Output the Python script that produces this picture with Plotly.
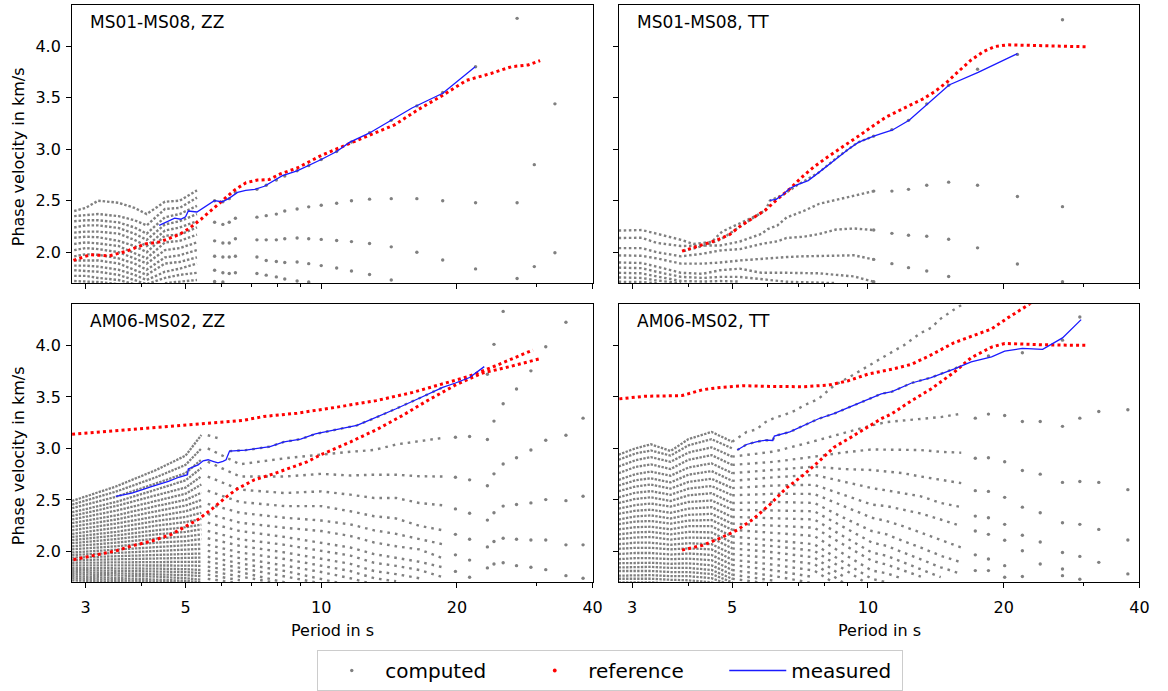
import math
import plotly.graph_objects as go

GRAY = "#808080"
RED = "#ff0000"
BLUE = "#1a1aff"
FONT = "DejaVu Sans"

PERIOD_TICKS = [3, 5, 10, 20, 40]
PERIOD_MINOR = [4, 6, 7, 8, 9, 30]
VEL_TICKS = [2.0, 2.5, 3.0, 3.5, 4.0]

# =============== MS01-MS08, ZZ (top left) ===============
TL_REF_T = [2.82, 3.07, 3.39, 3.70, 4.07, 4.39, 4.83, 5.09, 5.41, 5.72, 6.06, 6.43, 6.81, 7.22, 7.66, 8.11,
            8.84, 10.0, 11.34, 12.83, 14.54, 16.43, 18.62, 21.0, 23.8, 26.4, 28.8, 30.6]
TL_REF_V = [1.92, 1.975, 1.965, 2.01, 2.08, 2.10, 2.17, 2.23, 2.32, 2.41, 2.50, 2.605, 2.675, 2.70, 2.705, 2.76,
            2.817, 2.939, 3.04, 3.14, 3.236, 3.386, 3.524, 3.668, 3.735, 3.80, 3.818, 3.86]
TL_MEAS_T = [4.37, 4.73, 4.88, 5.0, 5.07, 5.30, 5.79, 6.03, 6.23, 6.52, 6.80, 7.12, 7.48, 7.8, 8.2, 8.84, 9.37,
             10.0, 10.82, 11.55, 12.77, 14.1, 15.9, 18.6, 21.96]
TL_MEAS_V = [2.26, 2.33, 2.32, 2.344, 2.40, 2.39, 2.50, 2.49, 2.52, 2.58, 2.60, 2.61, 2.64, 2.69, 2.743, 2.79, 2.84,
             2.90, 2.977, 3.066, 3.155, 3.265, 3.40, 3.543, 3.80]
TL_DENSE_T = [2.83, 3.0, 3.2, 3.55, 3.85, 4.1, 4.5, 4.85, 5.3]
TL_DENSE_V = [
    [2.40, 2.43, 2.50, 2.48, 2.43, 2.37, 2.49, 2.50, 2.60],
    [2.35, 2.36, 2.37, 2.35, 2.31, 2.26, 2.42, 2.43, 2.53],
    [2.30, 2.31, 2.31, 2.29, 2.24, 2.18, 2.34, 2.37, 2.45],
    [2.24, 2.26, 2.26, 2.235, 2.18, 2.12, 2.27, 2.30, 2.37],
    [2.19, 2.20, 2.20, 2.18, 2.12, 2.06, 2.21, 2.24, 2.30],
    [2.14, 2.15, 2.145, 2.11, 2.06, 2.00, 2.16, 2.17, 2.24],
    [2.08, 2.095, 2.085, 2.06, 1.99, 1.94, 2.095, 2.11, 2.17],
    [2.02, 2.04, 2.03, 2.00, 1.94, 1.89, 2.02, 2.04, 2.095],
    [1.96, 1.98, 1.975, 1.94, 1.89, 1.83, 1.95, 1.97, 2.02],
    [1.92, 1.92, 1.92, 1.89, 1.83, 1.78, 1.89, 1.905, 1.95],
    [1.87, 1.87, 1.86, 1.83, 1.78, 1.73, 1.81, 1.84, 1.89],
    [1.825, 1.82, 1.81, 1.78, 1.73, 1.69, 1.75, 1.78, 1.80],
    [1.77, 1.77, 1.75, 1.73, 1.69, None, 1.70, 1.715, 1.73],
    [1.72, 1.715, 1.71, 1.69],
]
TL_SPARSE_T = [5.8, 6.05, 6.25, 6.45, 7.2, 7.55, 7.95, 8.3, 8.84, 9.38, 10.0, 10.82, 11.67, 12.8, 14.3, 16.3,
               18.6, 22.0, 27.2, 29.7, 33.0]
TL_SPARSE_V = [
    [2.50, 2.49, 2.52, 2.58, 2.61, 2.65, 2.70, 2.74, 2.79, 2.84, 2.90, 2.977, 3.07, 3.16, 3.28, 3.42, 3.55, 3.80, 4.27],
    [2.29, 2.27, 2.29, 2.33, 2.34, 2.355, 2.37, 2.40, 2.42, 2.44, 2.455, 2.475, 2.50, 2.515, 2.52, 2.52, 2.50, 2.48, 2.48, 2.85, 3.44],
    [2.11, 2.09, 2.09, 2.13, 2.12, 2.12, 2.12, 2.13, 2.138, 2.13, 2.124, 2.113, 2.103, 2.084, 2.052, 2.0, 1.924, 1.838, 1.745, 1.86, 1.995],
    [1.96, 1.953, 1.953, 1.96, 1.953, 1.92, 1.91, 1.90, 1.905, 1.889, 1.87, 1.847, 1.818, 1.783, 1.73],
    [1.825, 1.80, 1.793, 1.80, 1.793, 1.777, 1.76, 1.74, 1.72, 1.71],
    [1.715, 1.71],
]

# =============== MS01-MS08, TT (top right) ===============
TR_REF_T = [3.87, 4.09, 4.36, 4.62, 4.93, 5.2, 5.55, 5.93, 6.28, 6.71, 7.13, 7.58, 8.05, 8.58, 9.1, 9.7, 10.34,
            10.98, 11.70, 12.43, 13.22, 14.07, 14.98, 15.92, 16.94, 18.0, 19.15, 20.39, 22.34, 24.5, 26.84, 30.4]
TR_REF_V = [2.01, 2.042, 2.075, 2.116, 2.17, 2.25, 2.33, 2.41, 2.51, 2.615, 2.727, 2.826, 2.91, 2.99, 3.07, 3.15,
            3.236, 3.313, 3.373, 3.428, 3.486, 3.559, 3.652, 3.76, 3.866, 3.946, 3.997, 4.013, 4.007, 4.0, 4.0, 3.994]
TR_MEAS_T = [6.06, 6.26, 6.48, 6.7, 6.98, 7.37, 7.76, 8.17, 8.6, 9.05, 9.52, 10.02, 10.3, 10.7, 11.31, 12.34,
             13.54, 15.13, 17.55, 21.45]
TR_MEAS_V = [2.503, 2.513, 2.56, 2.618, 2.656, 2.695, 2.77, 2.848, 2.929, 3.0, 3.066, 3.11, 3.127, 3.15, 3.184,
             3.28, 3.44, 3.623, 3.745, 3.927]
TR_ROWS = [
    [(2.8, 2.21), (3.15, 2.215), (3.4, 2.18), (3.85, 2.12), (4.1, 2.08), (4.5, 2.10), (4.75, 2.20), (5.2, 2.28),
     (5.75, 2.37), (5.95, 2.42)],
    [(2.8, 2.138), (3.15, 2.14), (3.4, 2.09), (3.85, 2.06), (4.3, 2.065), (4.7, 2.065), (5.2, 2.104), (5.5, 2.138),
     (5.8, 2.177), (6.0, 2.225), (6.3, 2.26), (6.6, 2.337), (7.2, 2.40), (7.8, 2.47), (8.5, 2.51), (9.3, 2.545),
     (10.3, 2.593)],
    [(2.8, 2.04), (3.15, 2.04), (3.4, 2.0), (3.85, 1.96), (4.3, 1.985), (4.7, 2.017), (5.2, 2.03), (5.8, 2.08),
     (6.3, 2.106), (6.6, 2.138), (7.2, 2.15), (7.8, 2.177), (8.5, 2.22), (9.3, 2.23), (10.3, 2.215)],
    [(2.8, 1.969), (3.15, 1.965), (3.4, 1.94), (3.85, 1.889), (4.3, 1.889), (4.7, 1.90), (5.2, 1.92), (5.8, 1.937),
     (6.6, 1.953), (7.2, 1.96), (8.5, 1.97), (9.3, 1.97), (10.3, 1.93)],
    [(2.8, 1.90), (3.15, 1.895), (3.4, 1.86), (3.85, 1.80), (4.3, 1.79), (4.7, 1.825), (5.2, 1.84), (5.8, 1.80),
     (6.6, 1.80), (7.8, 1.795), (8.5, 1.78), (9.3, 1.765), (10.3, 1.713)],
    [(2.8, 1.85), (3.15, 1.845), (3.4, 1.81), (3.85, 1.76), (4.3, 1.75), (4.7, 1.76), (5.2, 1.76), (5.8, 1.74),
     (6.6, 1.713), (8.5, 1.70)],
    [(2.8, 1.80), (3.15, 1.795), (3.4, 1.765), (3.85, 1.72), (4.3, 1.715), (4.7, 1.72), (5.2, 1.715)],
    [(2.8, 1.755), (3.15, 1.75), (3.4, 1.725), (3.85, 1.70)],
    [(2.8, 1.713), (3.15, 1.71), (3.4, 1.70)],
    [(3.9, 2.01), (4.3, 2.06), (4.7, 2.12), (5.2, 2.25), (5.55, 2.33), (5.93, 2.41), (6.06, 2.50), (6.5, 2.56),
     (7.0, 2.656), (7.76, 2.77), (8.6, 2.93), (9.5, 3.066), (10.3, 3.127)],
]
TR_SPARSE_T = [10.3, 11.3, 12.3, 13.5, 15.1, 17.5, 21.45, 27.0]
TR_SPARSE_V = [
    [3.127, 3.19, 3.28, 3.44, 3.62, 3.776, 3.92, 4.256],
    [2.593, 2.593, 2.61, 2.65, 2.68, 2.65, 2.54, 2.442],
    [2.215, 2.183, 2.164, 2.155, 2.126, 2.042, 1.886, None],
    [1.93, 1.889, 1.85, 1.818, 1.764, None, None, 1.713],
    [1.713],
]

# =============== AM06-MS02, ZZ (bottom left) ===============
BL_REF1_T = [2.8, 3.8, 5.33, 6.7, 7.45, 8.84, 10.82, 13.24, 15.97, 18.6, 21.2, 24.3, 27.8, 29.5]
BL_REF1_V = [3.137, 3.186, 3.24, 3.272, 3.31, 3.342, 3.40, 3.464, 3.544, 3.625, 3.698, 3.80, 3.904, 3.955]
BL_REF2_T = [2.82, 3.21, 3.5, 3.8, 4.2, 4.65, 4.97, 5.33, 5.75, 6.18, 6.53, 7.1, 7.8, 8.4, 9.3, 10.0, 10.8,
             11.62, 12.5, 13.24, 15.15, 17.2, 19.85, 22.7, 26.2, 30.6]
BL_REF2_V = [1.92, 1.974, 2.005, 2.054, 2.10, 2.166, 2.236, 2.31, 2.42, 2.535, 2.61, 2.695, 2.75, 2.80, 2.87, 2.94,
             3.0, 3.064, 3.13, 3.18, 3.32, 3.464, 3.615, 3.73, 3.794, 3.871]
BL_MEAS_T = [3.5, 3.8, 4.2, 4.58, 4.83, 5.05, 5.07, 5.33, 5.47, 5.61, 5.75, 5.9, 6.05, 6.15, 6.2, 6.26, 6.8, 7.22,
             7.7, 8.27, 9.0, 9.7, 10.82, 12.0, 12.6, 13.24, 14.66, 16.5, 18.6, 19.85, 21.34, 23.0]
BL_MEAS_V = [2.535, 2.567, 2.63, 2.68, 2.72, 2.745, 2.80, 2.84, 2.88, 2.89, 2.875, 2.86, 2.875, 2.89, 2.93, 2.974,
             2.983, 3.0, 3.018, 3.064, 3.09, 3.14, 3.18, 3.224, 3.262, 3.30, 3.385, 3.487, 3.592, 3.635, 3.688, 3.794]
BL_DENSE_T = [2.8, 3.5, 4.3, 5.0, 5.42]
BL_DENSE_V = [
    [2.49, 2.63, 2.79, 2.93, 3.13], [2.455, 2.58, 2.72, 2.84, 3.00], [2.42, 2.53, 2.66, 2.76, 2.89],
    [2.38, 2.48, 2.60, 2.69, 2.81], [2.345, 2.44, 2.545, 2.62, 2.73], [2.31, 2.395, 2.49, 2.56, 2.65],
    [2.275, 2.35, 2.44, 2.50, 2.57], [2.24, 2.31, 2.39, 2.445, 2.50], [2.205, 2.27, 2.34, 2.39, 2.44],
    [2.17, 2.23, 2.295, 2.335, 2.375], [2.14, 2.19, 2.25, 2.285, 2.315], [2.11, 2.155, 2.205, 2.235, 2.26],
    [2.08, 2.12, 2.165, 2.19, 2.215], [2.05, 2.085, 2.125, 2.145, 2.165], [2.02, 2.05, 2.085, 2.10, 2.12],
    [1.99, 2.015, 2.045, 2.055, 2.07], [1.965, 1.985, 2.005, 2.015, 2.025], [1.94, 1.955, 1.97, 1.975, 1.98],
    [1.915, 1.925, 1.935, 1.94, 1.94], [1.89, 1.895, 1.90, 1.90, 1.90], [1.865, 1.867, 1.865, 1.863, 1.86],
    [1.84, 1.84, 1.833, 1.828, 1.82], [1.82, 1.815, 1.805, 1.80, 1.79], [1.80, 1.79, 1.78, 1.77, 1.76],
    [1.78, 1.768, 1.755, 1.74, 1.725], [1.76, 1.745, 1.73, 1.715, 1.70], [1.74, 1.725, 1.71, 1.70, 1.69],
    [1.72, 1.705, 1.69, 1.68, 1.67],
]
BL_MID_T = [5.6, 6.6, 8.3, 10.0, 11.6, 13.1, 14.66, 16.5, 18.6]
BL_MID_V = [
    [3.00, 2.846, 2.904, 2.942, 2.967, 2.985, 3.038, 3.07, 3.102],
    [2.871, 2.727, 2.727, 2.753, 2.737, 2.745, 2.745, 2.73, 2.727],
    [2.727, 2.60, 2.567, 2.583, 2.551, 2.519, 2.519, 2.47, 2.448],
    [2.589, 2.48, 2.44, 2.44, 2.39, 2.342, 2.32, 2.25, 2.205],
    [2.462, 2.375, 2.327, 2.30, 2.263, 2.205, 2.17, 2.12, 2.07],
    [2.365, 2.279, 2.23, 2.198, 2.15, 2.087, 2.05, 2.02, 1.935],
    [2.279, 2.198, 2.14, 2.087, 2.038, 1.974, 1.94, 1.90, 1.846],
    [2.198, 2.118, 2.064, 2.01, 1.96, 1.89, 1.86, 1.82, 1.75],
    [2.128, 2.054, 1.99, 1.93, 1.88, 1.81, 1.78, 1.74],
    [2.064, 1.99, 1.926, 1.86, 1.81, 1.74, 1.71],
    [2.006, 1.935, 1.862, 1.80, 1.74, 1.68],
    [1.948, 1.884, 1.81, 1.73, 1.67],
    [1.90, 1.84, 1.756, 1.69],
    [1.852, 1.80, 1.70],
    [1.813, 1.756, 1.68],
    [1.775, 1.72],
    [1.734, 1.69],
]
BL_UPPER_ROWS = [
    [(5.6, 3.128), (5.9, 3.10)],
    [(6.26, 2.974), (6.8, 2.983), (7.22, 3.0), (7.7, 3.018), (8.27, 3.064), (9.0, 3.09), (9.7, 3.14), (10.82, 3.18),
     (12.0, 3.224), (13.24, 3.30), (14.66, 3.385), (16.5, 3.487), (18.6, 3.592)],
]
BL_FAR_T = [19.85, 21.34, 23.37, 24.17, 25.33, 27.12, 29.19, 31.49, 34.91, 38.1]
BL_FAR_V = [
    [3.109, 2.72, 2.413, 2.166, 1.967, 1.806],
    [3.115, 2.695, 2.371, 2.118, 1.916, 1.75],
    [3.72, 3.086, 2.638, 2.304, 2.044, 1.84],
    [4.01, 3.265, 2.753, 2.375, 2.096, 1.878],
    [4.33, 3.433, 2.849, 2.44, 2.128, 1.89],
    [3.577, 2.91, 2.455, 2.118, 1.862],
    [3.753, 2.984, 2.471, 2.111, 1.846],
    [3.987, 3.08, 2.503, 2.111, 1.823],
    [4.224, 3.128, 2.493, 2.064, 1.765],
    [3.294, 2.535, 2.064, 1.74],
]

# =============== AM06-MS02, TT (bottom right) ===============
BR_REF1_T = [2.81, 3.19, 3.87, 4.3, 4.7, 5.27, 6.06, 7.2, 8.18, 9.05, 10.0, 11.3, 12.5, 13.8, 15.5, 16.94, 18.8,
             20.5, 22.7, 24.0]
BR_REF1_V = [3.481, 3.506, 3.513, 3.57, 3.592, 3.609, 3.602, 3.599, 3.615, 3.657, 3.721, 3.769, 3.817, 3.907, 4.025,
             4.09, 4.16, 4.272, 4.394, 4.48]
BR_REF2_T = [3.87, 4.3, 4.7, 5.13, 5.55, 6.06, 6.59, 7.2, 7.77, 8.4, 9.2, 10.0, 10.7, 11.3, 12.5, 13.8, 15.5,
             16.94, 18.8, 20.1, 22.0, 24.4, 27.1, 30.8]
BR_REF2_V = [2.013, 2.06, 2.128, 2.208, 2.31, 2.455, 2.615, 2.743, 2.871, 3.01, 3.112, 3.208, 3.288, 3.337, 3.464,
             3.577, 3.737, 3.881, 3.984, 4.019, 4.01, 4.006, 4.003, 4.0]
BR_MEAS_T = [5.13, 5.38, 5.65, 5.93, 6.15, 6.2, 6.71, 7.2, 7.77, 8.4, 9.2, 10.0, 10.7, 11.3, 12.5, 13.8, 15.5,
             16.94, 18.8, 20.1, 22.0, 24.4, 27.0, 29.7]
BR_MEAS_V = [2.984, 3.038, 3.064, 3.08, 3.077, 3.12, 3.16, 3.224, 3.288, 3.337, 3.41, 3.481, 3.529, 3.551, 3.635,
             3.688, 3.769, 3.84, 3.888, 3.945, 3.971, 3.962, 4.073, 4.25]
BR_DENSE_T = [2.8, 3.05, 3.3, 3.65, 4.0, 4.5, 5.0]
BR_DENSE_V = [
    [2.94, 3.00, 3.04, 2.975, 3.09, 3.16, 3.065], [2.89, 2.95, 2.98, 2.93, 3.03, 3.09, 3.00],
    [2.825, 2.885, 2.915, 2.87, 2.96, 3.01, 2.92], [2.76, 2.82, 2.845, 2.80, 2.89, 2.935, 2.84],
    [2.695, 2.75, 2.775, 2.735, 2.815, 2.855, 2.76], [2.64, 2.69, 2.71, 2.67, 2.745, 2.78, 2.685],
    [2.585, 2.63, 2.65, 2.61, 2.675, 2.705, 2.615], [2.525, 2.57, 2.585, 2.55, 2.61, 2.635, 2.545],
    [2.47, 2.51, 2.525, 2.49, 2.545, 2.565, 2.47], [2.415, 2.45, 2.465, 2.435, 2.48, 2.495, 2.405],
    [2.365, 2.395, 2.405, 2.375, 2.415, 2.43, 2.335], [2.31, 2.34, 2.35, 2.32, 2.355, 2.365, 2.27],
    [2.265, 2.29, 2.295, 2.27, 2.30, 2.305, 2.21], [2.215, 2.235, 2.24, 2.215, 2.245, 2.245, 2.145],
    [2.165, 2.185, 2.19, 2.165, 2.19, 2.185, 2.085], [2.12, 2.135, 2.14, 2.115, 2.135, 2.13, 2.03],
    [2.07, 2.085, 2.085, 2.065, 2.08, 2.07, 1.975], [2.025, 2.035, 2.035, 2.02, 2.03, 2.02, 1.92],
    [1.975, 1.985, 1.985, 1.97, 1.98, 1.965, 1.87], [1.925, 1.935, 1.935, 1.925, 1.93, 1.915, 1.82],
    [1.885, 1.89, 1.89, 1.88, 1.885, 1.865, 1.775], [1.845, 1.85, 1.85, 1.84, 1.84, 1.82, 1.735],
    [1.81, 1.81, 1.81, 1.80, 1.80, 1.78, 1.70], [1.765, 1.77, 1.77, 1.76, 1.76, 1.74, 1.67],
    [1.735, 1.735, 1.735, 1.725, 1.72, 1.70, 1.64], [1.70, 1.70, 1.70, 1.69, 1.685, 1.665, 1.61],
]
BR_MID_T = [5.0, 6.2, 7.6, 8.8, 10.2, 11.0, 11.95, 13.1, 14.5, 16.1]
BR_MID_V = [
    [2.92, 2.97, 3.07, 3.15, 3.224, 3.256, 3.27, 3.288, 3.304, 3.337],
    [2.84, 2.87, 2.92, 2.96, 2.99, 2.99, 2.99, 2.984, 2.967, 2.958],
    [2.76, 2.79, 2.823, 2.80, 2.791, 2.775, 2.76, 2.727, 2.695, 2.663],
    [2.685, 2.72, 2.743, 2.68, 2.615, 2.592, 2.567, 2.535, 2.471, 2.43],
    [2.615, 2.64, 2.647, 2.55, 2.455, 2.44, 2.407, 2.368, 2.31, 2.246],
    [2.545, 2.56, 2.558, 2.44, 2.327, 2.294, 2.246, 2.182, 2.109, 2.038],
    [2.47, 2.48, 2.471, 2.33, 2.198, 2.166, 2.102, 2.038, 1.958, 1.894],
    [2.405, 2.40, 2.39, 2.24, 2.087, 2.054, 1.99, 1.926, 1.846, 1.782],
    [2.335, 2.325, 2.31, 2.15, 1.99, 1.958, 1.894, 1.83, 1.75],
    [2.27, 2.25, 2.23, 2.07, 1.91, 1.872, 1.814, 1.756],
    [2.21, 2.18, 2.15, 1.98, 1.814, 1.788, 1.734],
    [2.145, 2.11, 2.07, 1.90, 1.734, 1.70],
    [2.085, 2.05, 2.006, 1.83, 1.66],
    [2.03, 1.99, 1.942, 1.76],
    [1.975, 1.93, 1.878, 1.70],
    [1.92, 1.87, 1.814, 1.64],
    [1.87, 1.815, 1.75],
    [1.82, 1.76, 1.69],
    [1.775, 1.715],
    [1.735, 1.68],
]
BR_UPPER_ROWS = [
    [(5.0, 3.065), (5.13, 3.096), (5.38, 3.16), (5.65, 3.183), (5.93, 3.256), (6.25, 3.304), (6.48, 3.32),
     (6.9, 3.368), (7.2, 3.416), (7.77, 3.481), (8.4, 3.609), (9.2, 3.705), (10.0, 3.80), (10.7, 3.881),
     (11.5, 3.955), (12.0, 4.0), (13.1, 4.121), (13.8, 4.17), (14.5, 4.26), (15.5, 4.346), (16.5, 4.42)],
    [(5.13, 2.984), (5.38, 3.038), (5.65, 3.064), (5.93, 3.08), (6.15, 3.077), (6.2, 3.12), (6.71, 3.16),
     (7.2, 3.224), (7.77, 3.288), (8.4, 3.337), (9.2, 3.41), (10.0, 3.481), (10.7, 3.529), (11.3, 3.551),
     (12.5, 3.635), (13.8, 3.688), (15.5, 3.769), (16.1, 3.80)],
]
BR_FAR_T = [17.3, 18.5, 20.1, 22.0, 24.1, 27.0, 29.5, 32.5, 37.7]
BR_FAR_V = [
    [3.294, 2.904, 2.59, 2.343, 2.198, 1.967, 1.814],
    [3.897, 3.333, 2.91, 2.583, 2.327, 2.166, 1.926, 1.814],
    [3.32, 2.871, 2.525, 2.263, 2.109, 1.862, 1.75],
    [3.929, 3.262, 2.785, 2.43, 2.157, 2.006, 1.756],
    [3.262, 2.75, 2.375, 2.092, 1.878],
    [4.051, 3.214, 2.67, 2.279, 1.99, 1.83, 1.765],
    [4.275, 3.294, 2.679, 2.263, 1.952, 1.73],
    [3.359, 2.67, 2.214, 1.894],
    [3.375, 2.60, 2.111, 1.782],
]

PANEL_TITLES = ["MS01-MS08, ZZ", "MS01-MS08, TT", "AM06-MS02, ZZ", "AM06-MS02, TT"]


# ---------------- helpers ----------------
def grid_rows(grid, rows):
    xs, ys = [], []
    for row in rows:
        for t, v in zip(grid, row):
            xs.append(t if v is not None else None)
            ys.append(v)
        xs.append(None)
        ys.append(None)
    return xs, ys


def pair_rows(rows):
    xs, ys = [], []
    for row in rows:
        for t, v in row:
            xs.append(t)
            ys.append(v)
        xs.append(None)
        ys.append(None)
    return xs, ys


def columns(grid, cols):
    xs, ys = [], []
    for t, col in zip(grid, cols):
        for v in col:
            if v is not None:
                xs.append(t)
                ys.append(v)
    return xs, ys


fig = go.Figure()


def ax(n):
    return ("x" if n == 1 else f"x{n}"), ("y" if n == 1 else f"y{n}")


def add_dotted(n, xy, dash, width=2.4):
    xa, ya = ax(n)
    fig.add_trace(go.Scatter(x=xy[0], y=xy[1], xaxis=xa, yaxis=ya, mode="lines",
                             line=dict(color=GRAY, width=width, dash=dash),
                             showlegend=False, hoverinfo="skip"))


def add_dots(n, xy, size=3.4):
    xa, ya = ax(n)
    fig.add_trace(go.Scatter(x=xy[0], y=xy[1], xaxis=xa, yaxis=ya, mode="markers",
                             marker=dict(color=GRAY, size=size, line=dict(width=0)),
                             showlegend=False, hoverinfo="skip"))


def add_ref(n, t, v):
    xa, ya = ax(n)
    fig.add_trace(go.Scatter(x=t, y=v, xaxis=xa, yaxis=ya, mode="lines",
                             line=dict(color=RED, width=3.0, dash="3px,3.2px"),
                             showlegend=False, hoverinfo="skip"))


def add_meas(n, t, v):
    xa, ya = ax(n)
    fig.add_trace(go.Scatter(x=t, y=v, xaxis=xa, yaxis=ya, mode="lines",
                             line=dict(color=BLUE, width=1.3),
                             showlegend=False, hoverinfo="skip"))


# computed (gray)
add_dotted(1, grid_rows(TL_DENSE_T, TL_DENSE_V), "2.5px,1.9px")
add_dots(1, grid_rows(TL_SPARSE_T, TL_SPARSE_V))
add_dotted(2, pair_rows(TR_ROWS), "2.5px,2.6px")
add_dots(2, grid_rows(TR_SPARSE_T, TR_SPARSE_V))
add_dotted(3, grid_rows(BL_DENSE_T, BL_DENSE_V), "2.4px,1.1px", 2.3)
add_dotted(3, grid_rows(BL_MID_T, BL_MID_V), "2.6px,5px")
add_dotted(3, pair_rows(BL_UPPER_ROWS), "2.6px,5px")
add_dots(3, columns(BL_FAR_T, BL_FAR_V))
add_dotted(4, grid_rows(BR_DENSE_T, BR_DENSE_V), "2.4px,1.3px", 2.3)
add_dotted(4, grid_rows(BR_MID_T, BR_MID_V), "2.6px,5px")
add_dotted(4, pair_rows(BR_UPPER_ROWS), "2.6px,5px")
add_dots(4, columns(BR_FAR_T, BR_FAR_V))

# reference (red)
add_ref(1, TL_REF_T, TL_REF_V)
add_ref(2, TR_REF_T, TR_REF_V)
add_ref(3, BL_REF1_T, BL_REF1_V)
add_ref(3, BL_REF2_T, BL_REF2_V)
add_ref(4, BR_REF1_T, BR_REF1_V)
add_ref(4, BR_REF2_T, BR_REF2_V)

# measured (blue)
add_meas(1, TL_MEAS_T, TL_MEAS_V)
add_meas(2, TR_MEAS_T, TR_MEAS_V)
add_meas(3, BL_MEAS_T, BL_MEAS_V)
add_meas(4, BR_MEAS_T, BR_MEAS_V)

# legend entries
fig.add_trace(go.Scatter(x=[None], y=[None], mode="markers", name="computed",
                         marker=dict(color=GRAY, size=3.4)))
fig.add_trace(go.Scatter(x=[None], y=[None], mode="markers", name="reference",
                         marker=dict(color=RED, size=3.8)))
fig.add_trace(go.Scatter(x=[None], y=[None], mode="lines", name="measured",
                         line=dict(color=BLUE, width=1.3), legendwidth=106))

W, H = 1168, 691
XD = [[72.7 / W, 597.7 / W], [624 / W, 1149.3 / W]]
YD = [[(H - 286) / H, (H - 5) / H], [(H - 588.3) / H, (H - 307.3) / H]]
XR = [math.log10(2.8), math.log10(40)]

layout = dict(
    width=W, height=H, margin=dict(l=0, r=0, t=0, b=0),
    paper_bgcolor="white", plot_bgcolor="white",
    font=dict(family=FONT, size=16, color="black"),
    hovermode=False,
    showlegend=True,
    legend=dict(orientation="h", x=320 / W, xanchor="left", y=(H - 657) / H, yanchor="top",
                bordercolor="#cccccc", borderwidth=1, bgcolor="white",
                font=dict(family=FONT, size=20, color="black"),
                entrywidth=131, itemwidth=57, tracegroupgap=0),
)

for n in range(1, 5):
    row = (n - 1) // 2
    col = (n - 1) % 2
    xa, ya = ax(n)
    xkey = "xaxis" if n == 1 else f"xaxis{n}"
    ykey = "yaxis" if n == 1 else f"yaxis{n}"
    layout[xkey] = dict(
        domain=XD[col], anchor=ya, type="log", range=XR,
        tickmode="array", tickvals=PERIOD_TICKS, ticktext=[str(t) for t in PERIOD_TICKS],
        ticks="outside", ticklen=5, tickwidth=1, tickcolor="black",
        minor=dict(tickmode="array", tickvals=PERIOD_MINOR, ticks="outside", ticklen=3,
                   tickwidth=1, tickcolor="black", showgrid=False),
        showticklabels=(row == 1), tickfont=dict(size=16), ticklabelstandoff=5,
        showline=True, mirror=True, linecolor="black", linewidth=1,
        showgrid=False, zeroline=False,
    )
    layout[ykey] = dict(
        domain=YD[row], anchor=xa, range=[1.7, 4.4],
        tickmode="array", tickvals=VEL_TICKS, ticktext=[f"{v:.1f}" for v in VEL_TICKS],
        ticks="outside", ticklen=5, tickwidth=1, tickcolor="black",
        showticklabels=(col == 0), tickfont=dict(size=16), ticklabelstandoff=2,
        showline=True, mirror=True, linecolor="black", linewidth=1,
        showgrid=False, zeroline=False,
    )

annotations = []
title_pos = [(89, 22), (640.7, 22), (89, 324), (640.7, 324)]
for (px, py), txt in zip(title_pos, PANEL_TITLES):
    annotations.append(dict(text=txt, xref="paper", yref="paper", x=px / W, y=1 - py / H,
                            xanchor="left", yanchor="middle", showarrow=False,
                            font=dict(family=FONT, size=17, color="black")))
for cy in (158, 460):
    annotations.append(dict(text="Phase velocity in km/s", xref="paper", yref="paper",
                            x=19 / W, y=1 - cy / H, xanchor="center", yanchor="middle",
                            textangle=-90, showarrow=False,
                            font=dict(family=FONT, size=16, color="black")))
for cx in (335.2, 886.7):
    annotations.append(dict(text="Period in s", xref="paper", yref="paper",
                            x=cx / W, y=1 - 637 / H, xanchor="center", yanchor="middle",
                            showarrow=False, font=dict(family=FONT, size=16, color="black")))
layout["annotations"] = annotations

fig.update_layout(**layout)
fig.write_html("out.html")
